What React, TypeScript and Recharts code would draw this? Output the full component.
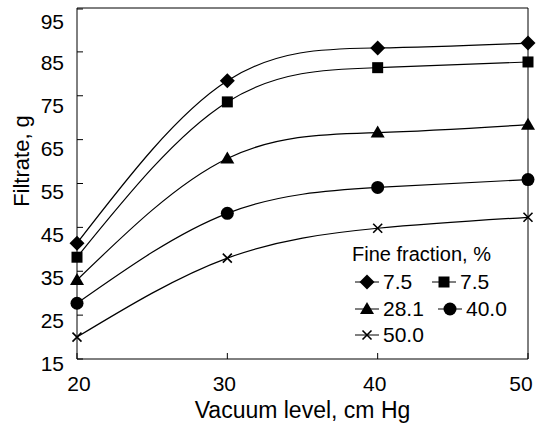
import { LineChart, Line, XAxis, YAxis, ReferenceLine } from 'recharts'

// vacuum level (cm Hg) on the x axis
const vacuum = [20, 30, 40, 50]
const xTicks = [20, 30, 40, 50]
const yTicks = [15, 25, 35, 45, 55, 65, 75, 85, 95]

// filtrate (g) per fine fraction
const fine75a = [41.4, 78.4, 85.9, 87.0]
const fine75b = [38.2, 73.6, 81.4, 82.7]
const fine281 = [33.0, 60.7, 66.6, 68.4]
const fine400 = [27.7, 48.2, 54.1, 55.9]
const fine500 = [20.0, 38.0, 44.8, 47.3]

const seriesLabels = ['7.5', '7.5', '28.1', '40.0', '50.0']
const seriesShapes = ['diamond', 'square', 'triangle', 'circle', 'cross']

const data = vacuum.map((v, i) => ({
  vacuum: v,
  s0: fine75a[i],
  s1: fine75b[i],
  s2: fine281[i],
  s3: fine400[i],
  s4: fine500[i],
}))

const FONT = '"Liberation Sans", Arial, Helvetica, sans-serif'

function Marker({ shape, cx, cy }: { shape: string; cx: number; cy: number }) {
  if (shape === 'diamond') {
    const s = 7.5
    return <polygon points={`${cx},${cy - s} ${cx + s},${cy} ${cx},${cy + s} ${cx - s},${cy}`} fill="#000" />
  }
  if (shape === 'square') {
    return <rect x={cx - 5.5} y={cy - 5.5} width={11} height={11} fill="#000" />
  }
  if (shape === 'triangle') {
    return <polygon points={`${cx},${cy - 7} ${cx + 7},${cy + 5} ${cx - 7},${cy + 5}`} fill="#000" />
  }
  if (shape === 'circle') {
    return <circle cx={cx} cy={cy} r={6.5} fill="#000" />
  }
  const c = 4.5
  return (
    <g stroke="#000" strokeWidth={1.6}>
      <line x1={cx - c} y1={cy - c} x2={cx + c} y2={cy + c} />
      <line x1={cx - c} y1={cy + c} x2={cx + c} y2={cy - c} />
    </g>
  )
}

function makeDot(shape: string) {
  return (props: any) => {
    const { cx, cy, index } = props
    if (cx == null || cy == null) return <g key={index} />
    return <Marker key={index} shape={shape} cx={cx} cy={cy} />
  }
}

function YTick({ x, y, payload }: any) {
  // labels in the scan sit a bit lower than their ticks
  const off = 4 + (payload.value - 15) * 0.1
  return (
    <g>
      <line x1={x} x2={x + 6} y1={y} y2={y} stroke="#000" />
      <text x={x - 13} y={y + off} textAnchor="end" dominantBaseline="central" fontSize={21} fontFamily={FONT} fill="#000">
        {payload.value}
      </text>
    </g>
  )
}

function XTick({ x, y, payload }: any) {
  const shift = payload.value === 50 ? -7 : payload.value === 20 ? 2 : -3
  return (
    <g>
      <line x1={x} x2={x} y1={y} y2={y - 6} stroke="#000" />
      <text x={x + shift} y={y + 24} textAnchor="middle" dominantBaseline="central" fontSize={21} fontFamily={FONT} fill="#000">
        {payload.value}
      </text>
    </g>
  )
}

function LegendItem({ shape, label, left, top }: { shape: string; label: string; left: number; top: number }) {
  return (
    <div style={{ position: 'absolute', left, top, display: 'flex', alignItems: 'center', height: 24 }}>
      <svg width={26} height={20}>
        <line x1={1} x2={25} y1={10} y2={10} stroke="#000" />
        <Marker shape={shape} cx={13} cy={10} />
      </svg>
      <span style={{ marginLeft: 3, fontSize: 21, fontFamily: FONT, color: '#000' }}>{label}</span>
    </div>
  )
}

export default function App() {
  const legendPos = [
    { left: 354, top: 270 },
    { left: 431, top: 270 },
    { left: 354, top: 297 },
    { left: 437, top: 297 },
    { left: 354, top: 323 },
  ]
  return (
    <div style={{ position: 'absolute', left: 0, top: 0, width: 536, height: 431, background: '#fff' }}>
      <LineChart width={536} height={431} data={data} margin={{ top: 8, right: 8, left: 0, bottom: 0 }}>
        <XAxis
          dataKey="vacuum"
          type="number"
          domain={[20, 50]}
          ticks={xTicks}
          tickSize={0}
          tickMargin={0}
          tickLine={false}
          tick={<XTick />}
          axisLine={{ stroke: '#000' }}
          height={72}
          label={{
            value: 'Vacuum level, cm Hg',
            position: 'insideBottom',
            offset: 13,
            style: { fontSize: 23, fontFamily: FONT, fill: '#000' },
          }}
        />
        <YAxis
          type="number"
          domain={[15, 95]}
          ticks={yTicks}
          tickSize={0}
          tickMargin={0}
          tickLine={false}
          tick={<YTick />}
          axisLine={{ stroke: '#000' }}
          width={77}
          label={{
            content: () => (
              <text
                x={21}
                y={161}
                transform="rotate(-90 21 161)"
                textAnchor="middle"
                dominantBaseline="central"
                fontSize={22}
                fontFamily={FONT}
                fill="#000"
              >
                Filtrate, g
              </text>
            ),
          }}
        />
        <ReferenceLine x={50} stroke="#000" />
        <ReferenceLine y={95} stroke="#000" />
        {seriesShapes.map((shape, i) => (
          <Line
            key={i}
            type="natural"
            dataKey={`s${i}`}
            stroke="#000"
            strokeWidth={1.2}
            dot={makeDot(shape)}
            activeDot={false}
            isAnimationActive={false}
          />
        ))}
      </LineChart>
      <div
        style={{
          position: 'absolute',
          left: 352,
          top: 243,
          fontSize: 20,
          fontFamily: FONT,
          color: '#000',
          whiteSpace: 'nowrap',
        }}
      >
        Fine fraction, %
      </div>
      {seriesShapes.map((shape, i) => (
        <LegendItem key={i} shape={shape} label={seriesLabels[i]} left={legendPos[i].left} top={legendPos[i].top} />
      ))}
    </div>
  )
}
